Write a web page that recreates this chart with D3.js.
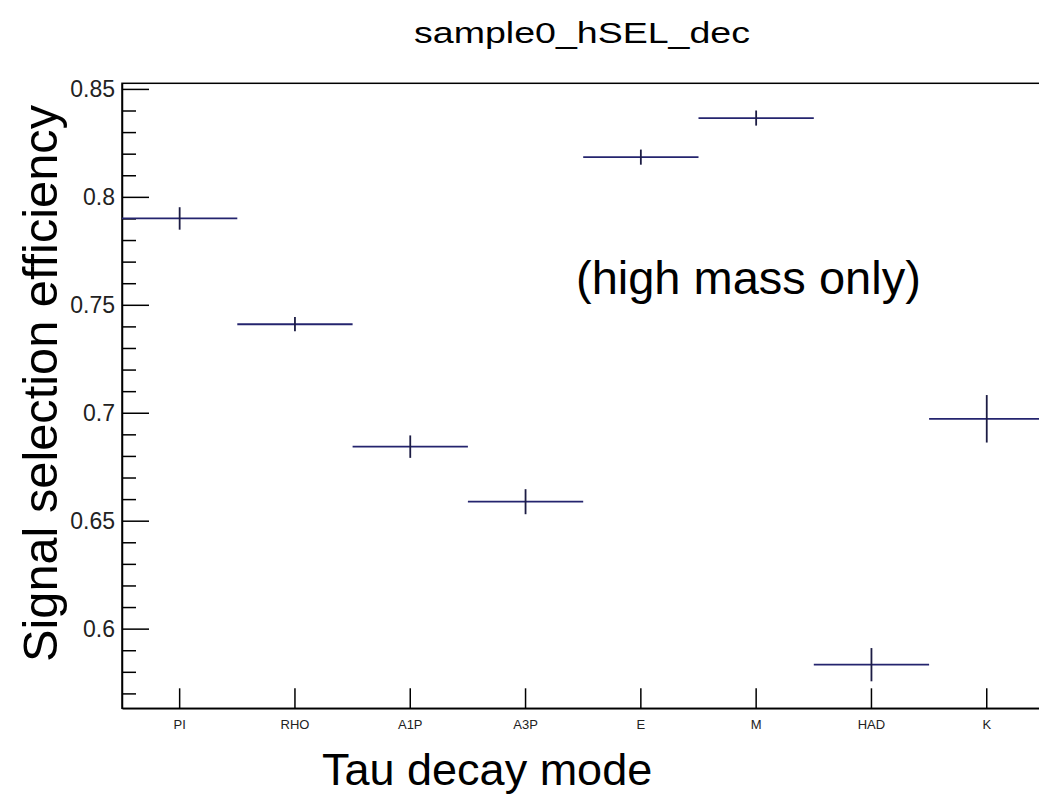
<!DOCTYPE html>
<html>
<head>
<meta charset="utf-8">
<script src="https://cdn.jsdelivr.net/npm/d3@7"></script>
<style>
  body { margin: 0; background: #fff; }
  svg { display: block; font-family: "Liberation Sans", Arial, sans-serif; }
</style>
</head>
<body>
<svg></svg>
<script>
let categories = ['PI', 'RHO', 'A1P', 'A3P', 'E', 'M', 'HAD', 'K']
let efficiency = [0.790, 0.741, 0.6843, 0.6588, 0.8184, 0.8365, 0.5833, 0.6972]
let errors = [0.0052, 0.0033, 0.0052, 0.0058, 0.0035, 0.0035, 0.0077, 0.011]
let yMajor = [0.6, 0.65, 0.7, 0.75, 0.8, 0.85]
let yMinor = [0.57, 0.58, 0.59, 0.61, 0.62, 0.63, 0.64, 0.66, 0.67, 0.68, 0.69,
              0.71, 0.72, 0.73, 0.74, 0.76, 0.77, 0.78, 0.79, 0.81, 0.82, 0.83, 0.84]
let yDomain = [0.5631, 0.8526]

let w = 1039
let h = 797
let padLeft = 122
let padRight = 122 + 8 * 115.3
let padTop = 83.3
let padBottom = 708.3

let svg = d3.select('svg').attr('width', w).attr('height', h)

let xScale = d3.scaleBand().domain(categories).range([padLeft, padRight]).padding(0)
let yScale = d3.scaleLinear().domain(yDomain).range([padBottom, padTop])

// frame
svg.append('rect')
   .attr('x', padLeft).attr('y', padTop)
   .attr('width', padRight - padLeft).attr('height', padBottom - padTop)
   .attr('fill', 'none').attr('stroke', '#000').attr('stroke-width', 1.5)

// x axis
let xAxis = d3.axisBottom(xScale).tickSizeInner(-20).tickSizeOuter(0).tickPadding(11)
let gx = svg.append('g').attr('transform', 'translate(0,' + padBottom + ')').call(xAxis)
gx.select('.domain').attr('stroke-width', 1.5)
gx.selectAll('.tick line').attr('stroke-width', 1.5)
gx.selectAll('.tick text').attr('font-size', 13).attr('fill', '#222')

// y axis, major
let yAxis = d3.axisLeft(yScale).tickValues(yMajor).tickSizeInner(-27).tickSizeOuter(0)
              .tickPadding(7).tickFormat(d3.format('~g'))
let gy = svg.append('g').attr('transform', 'translate(' + padLeft + ',0)').call(yAxis)
gy.select('.domain').attr('stroke-width', 1.5)
gy.selectAll('.tick line').attr('stroke-width', 1.5)
gy.selectAll('.tick text').attr('font-size', 23).attr('fill', '#222')

// y axis, minor
let yAxisMinor = d3.axisLeft(yScale).tickValues(yMinor).tickSizeInner(-14).tickSizeOuter(0).tickFormat('')
let gym = svg.append('g').attr('transform', 'translate(' + padLeft + ',0)').call(yAxisMinor)
gym.select('.domain').remove()
gym.selectAll('.tick line').attr('stroke-width', 1.5)

// points: horizontal bin width bars and vertical error bars
let pts = categories.map((c, i) => ({ c: c, v: efficiency[i], e: errors[i] }))
let marks = svg.append('g')
marks.selectAll('line.hbar')
     .data(pts)
     .enter()
     .append('line')
     .attr('class', 'hbar')
     .attr('x1', (d) => xScale(d.c))
     .attr('x2', (d) => xScale(d.c) + xScale.bandwidth())
     .attr('y1', (d) => yScale(d.v))
     .attr('y2', (d) => yScale(d.v))
     .attr('stroke', '#24246e')
     .attr('stroke-width', 1.8)
marks.selectAll('line.vbar')
     .data(pts)
     .enter()
     .append('line')
     .attr('class', 'vbar')
     .attr('x1', (d) => xScale(d.c) + xScale.bandwidth() / 2)
     .attr('x2', (d) => xScale(d.c) + xScale.bandwidth() / 2)
     .attr('y1', (d) => yScale(d.v - d.e))
     .attr('y2', (d) => yScale(d.v + d.e))
     .attr('stroke', '#1c1c44')
     .attr('stroke-width', 1.8)

// texts
svg.append('text')
   .attr('x', 414).attr('y', 43)
   .attr('font-size', 29)
   .attr('textLength', 336).attr('lengthAdjust', 'spacingAndGlyphs')
   .text('sample0_hSEL_dec')

svg.append('text')
   .attr('transform', 'translate(57,662) rotate(-90)')
   .attr('font-size', 48)
   .attr('textLength', 557).attr('lengthAdjust', 'spacingAndGlyphs')
   .text('Signal selection efficiency')

svg.append('text')
   .attr('x', 322).attr('y', 785)
   .attr('font-size', 45)
   .text('Tau decay mode')

svg.append('text')
   .attr('x', 576).attr('y', 294)
   .attr('font-size', 47)
   .text('(high mass only)')
</script>
</body>
</html>
